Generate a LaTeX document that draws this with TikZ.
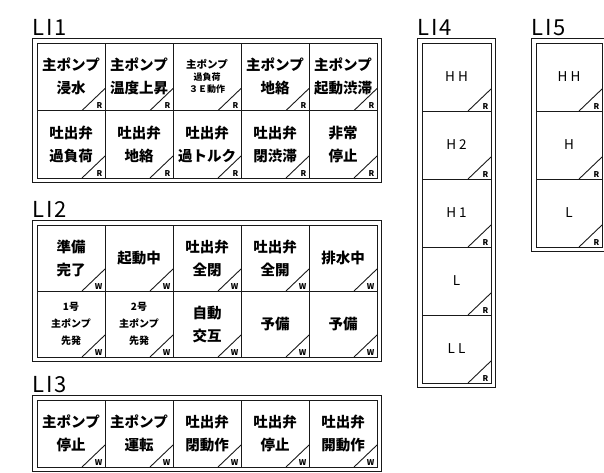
\documentclass[tikz,border=0pt]{standalone}
\usepackage{fontspec}
\setmainfont{Noto Sans CJK JP}
\usetikzlibrary{positioning,fit}

\begin{document}
\begin{tikzpicture}[x=1pt,y=1pt,node distance=0pt,
  cell/.style={draw=black!90,line width=1pt,outer sep=0pt,inner sep=0pt,
    minimum width=68pt,minimum height=67.5pt,align=center,
    font=\bfseries\fontsize{14.5}{23}\selectfont,
    path picture={\draw[line width=0.9pt,black!90]
      ([xshift=-23pt]path picture bounding box.south east) --
      ([yshift=22pt]path picture bounding box.south east);},
    label={[font=\bfseries\fontsize{8}{8}\selectfont,anchor=south east,
      inner sep=0pt,xshift=-2.5pt,yshift=1.5pt]south east:#1}},
  cell/.default=R,
  lvl/.style={cell=R,minimum width=69pt,minimum height=68pt,
    font=\fontsize{13.5}{13.5}\selectfont},
  frame/.style={draw=black!90,line width=1.2pt,inner sep=4.5pt},
  title/.style={font=\fontsize{22}{22}\selectfont,inner sep=0pt}]
\useasboundingbox (0,0) rectangle (604,-472);

% LI1
\node[cell,anchor=north west] (g1t1) at (37,-43) {主ポンプ\\浸水};
\node[cell,right=of g1t1] (g1t2) {主ポンプ\\温度上昇};
\node[cell,right=of g1t2,font=\bfseries\fontsize{9}{12}\selectfont] (g1t3)
  {{\fontsize{10.5}{12}\selectfont 主ポンプ}\\過負荷\\３Ｅ動作};
\node[cell,right=of g1t3] (g1t4) {主ポンプ\\地絡};
\node[cell,right=of g1t4] (g1t5) {主ポンプ\\起動渋滞};
\node[cell,below=of g1t1] (g1b1) {吐出弁\\過負荷};
\node[cell,right=of g1b1] (g1b2) {吐出弁\\地絡};
\node[cell,right=of g1b2] (g1b3) {吐出弁\\過トルク};
\node[cell,right=of g1b3] (g1b4) {吐出弁\\閉渋滞};
\node[cell,right=of g1b4] (g1b5) {非常\\停止};
\node[frame,fit=(g1t1)(g1b5)] (g1) {};
\node[title,above right=2pt and 0pt of g1.north west] (t1) {L\kern2pt I\kern2pt 1};

% LI2
\node[cell=W,anchor=north west,minimum height=66pt] (g2t1) at (37,-225) {準備\\完了};
\node[cell=W,right=of g2t1,minimum height=66pt] (g2t2) {起動中};
\node[cell=W,right=of g2t2,minimum height=66pt] (g2t3) {吐出弁\\全閉};
\node[cell=W,right=of g2t3,minimum height=66pt] (g2t4) {吐出弁\\全開};
\node[cell=W,right=of g2t4,minimum height=66pt] (g2t5) {排水中};
\node[cell=W,below=of g2t1,minimum height=66pt,font=\bfseries\fontsize{10}{17}\selectfont] (g2b1) {1号\\主ポンプ\\先発};
\node[cell=W,right=of g2b1,minimum height=66pt,font=\bfseries\fontsize{10}{17}\selectfont] (g2b2) {2号\\主ポンプ\\先発};
\node[cell=W,right=of g2b2,minimum height=66pt] (g2b3) {自動\\交互};
\node[cell=W,right=of g2b3,minimum height=66pt] (g2b4) {予備};
\node[cell=W,right=of g2b4,minimum height=66pt] (g2b5) {予備};
\node[frame,fit=(g2t1)(g2b5)] (g2) {};
\node[title,above right=2pt and 0pt of g2.north west] (t2) {L\kern2pt I\kern2pt 2};

% LI3
\node[cell=W,anchor=north west,minimum height=67pt] (g3t1) at (37,-400) {主ポンプ\\停止};
\node[cell=W,right=of g3t1,minimum height=67pt] (g3t2) {主ポンプ\\運転};
\node[cell=W,right=of g3t2,minimum height=67pt] (g3t3) {吐出弁\\閉動作};
\node[cell=W,right=of g3t3,minimum height=67pt] (g3t4) {吐出弁\\停止};
\node[cell=W,right=of g3t4,minimum height=67pt] (g3t5) {吐出弁\\開動作};
\node[frame,fit=(g3t1)(g3t5)] (g3) {};
\node[title,above right=2pt and 0pt of g3.north west] (t3) {L\kern2pt I\kern2pt 3};

% LI4
\node[lvl,anchor=north west] (g4r1) at (422,-43) {H\ H};
\node[lvl,below=of g4r1] (g4r2) {H\ 2};
\node[lvl,below=of g4r2] (g4r3) {H\ 1};
\node[lvl,below=of g4r3] (g4r4) {L};
\node[lvl,below=of g4r4] (g4r5) {L\ L};
\node[frame,fit=(g4r1)(g4r5)] (g4) {};
\node[title,above right=2pt and 0pt of g4.north west] (t4) {L\kern2pt I\kern2pt 4};

% LI5
\node[lvl,anchor=north west,minimum width=66pt] (g5r1) at (536,-43) {H\ H};
\node[lvl,below=of g5r1,minimum width=66pt] (g5r2) {H};
\node[lvl,below=of g5r2,minimum width=66pt] (g5r3) {L};
\node[frame,fit=(g5r1)(g5r3)] (g5) {};
\node[title,above right=2pt and 0pt of g5.north west] (t5) {L\kern2pt I\kern2pt 5};
\end{tikzpicture}
\end{document}
